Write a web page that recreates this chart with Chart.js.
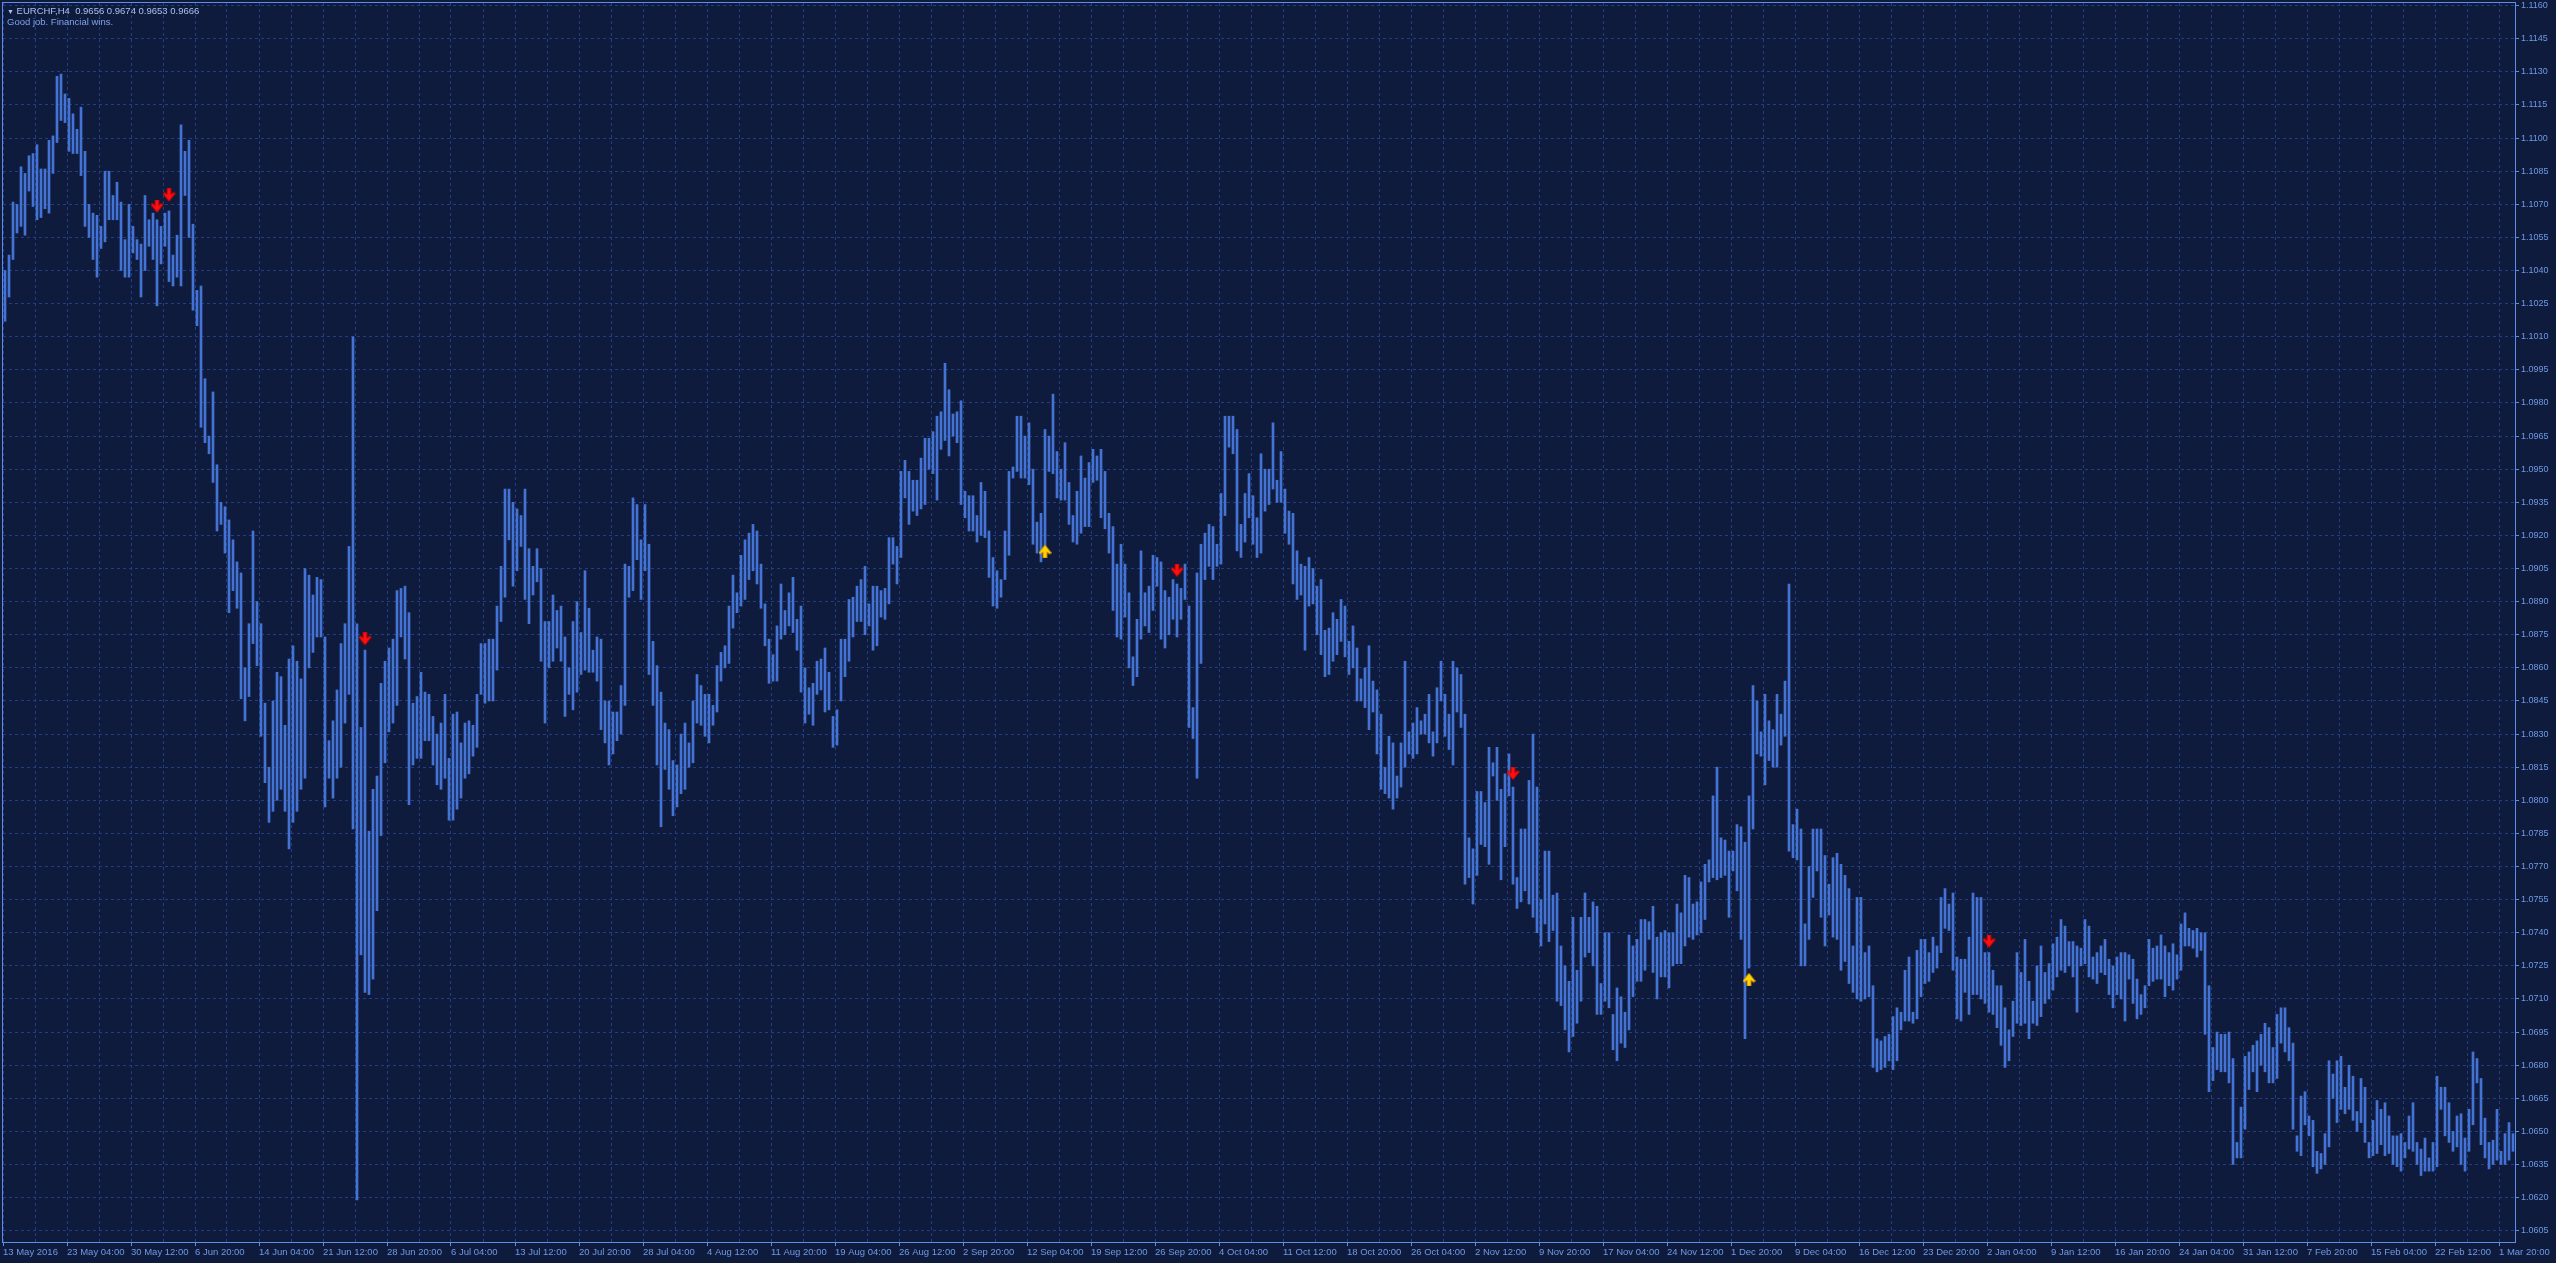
<!DOCTYPE html>
<html>
<head>
<meta charset="utf-8">
<title>EURCHF,H4</title>
<script src="https://cdn.jsdelivr.net/npm/chart.js@4.4.1/dist/chart.umd.min.js"></script>
<style>
  html, body { margin: 0; padding: 0; background: #0f1b3d; overflow: hidden; }
  #wrap { position: relative; width: 2556px; height: 1263px; }
  #c { display: block; }
  .hdr { position: absolute; left: 7px; font-family: "Liberation Sans", Arial, sans-serif; font-size: 9.5px; line-height: 11px; white-space: pre; }
</style>
</head>
<body>
<div id="wrap">
  <canvas id="c" width="2556" height="1263"></canvas>
  <div class="hdr" style="top:5px;color:#a9c0ee"><span style="font-size:7px">▼</span> EURCHF,H4  0.9656 0.9674 0.9653 0.9666</div>
  <div class="hdr" style="top:16px;color:#7fa3ea">Good job. Financial wins.</div>
</div>
<script>
// ---- data (EURCHF H4, each point = two H4 bars, prices in pips: value / 10000) ----
const highPips = [
11040,11047,11071,11070,11087,11084,11092,11093,11097,11086,
11086,11099,11101,11128,11129,11120,11118,11111,11104,11114,
11094,11070,11066,11065,11060,11085,11085,11074,11080,11071,
11054,11070,11060,11054,11052,11074,11063,11066,11063,11060,
11066,11067,11047,11056,11106,11094,11099,11061,11031,11033,
10991,10965,10985,10952,10935,10933,10927,10918,10908,10903,
10860,10880,10922,10890,10880,10844,10815,10845,10858,10856,
10834,10864,10870,10863,10855,10905,10902,10893,10901,10900,
10874,10827,10836,10850,10871,10880,10915,11010,10880,10833,
10868,10786,10805,10811,10853,10863,10869,10873,10895,10896,
10897,10885,10844,10847,10858,10849,10848,10838,10830,10835,
10848,10819,10839,10840,10826,10835,10836,10834,10848,10871,
10871,10873,10873,10888,10906,10941,10941,10935,10932,10929,
10941,10914,10906,10914,10905,10881,10881,10893,10886,10888,
10874,10860,10881,10890,10876,10904,10887,10868,10874,10873,
10845,10845,10840,10840,10852,10907,10906,10937,10934,10918,
10934,10916,10872,10861,10849,10835,10832,10818,10816,10830,
10835,10826,10845,10857,10852,10848,10848,10843,10861,10867,
10870,10888,10902,10894,10911,10918,10921,10925,10922,10907,
10889,10873,10866,10879,10898,10886,10894,10901,10882,10888,
10860,10851,10853,10863,10864,10869,10858,10838,10841,10873,
10873,10891,10892,10897,10900,10906,10889,10897,10897,10895,
10896,10919,10919,10915,10949,10954,10949,10945,10945,10955,
10964,10964,10967,10974,10976,10998,10986,10975,10976,10981,
10940,10938,10938,10929,10944,10940,10922,10910,10904,10900,
10922,10949,10951,10974,10974,10965,10971,10950,10926,10930,
10968,10965,10984,10958,10950,10962,10944,10929,10940,10956,
10946,10953,10959,10956,10959,10949,10930,10924,10907,10916,
10907,10894,10865,10882,10913,10894,10897,10911,10910,10908,
10895,10892,10900,10898,10896,10907,10888,10842,10903,10916,
10921,10925,10924,10916,10939,10974,10974,10974,10968,10925,
10939,10948,10938,10928,10957,10950,10950,10971,10945,10958,
10941,10931,10930,10913,10907,10906,10910,10905,10897,10900,
10877,10878,10885,10882,10891,10888,10872,10879,10869,10855,
10860,10870,10854,10850,10839,10815,10829,10826,10811,10826,
10863,10831,10835,10842,10836,10839,10848,10831,10851,10863,
10848,10839,10863,10860,10857,10839,10783,10778,10804,10804,
10799,10824,10817,10824,10805,10812,10821,10806,10765,10787,
10787,10809,10830,10806,10755,10777,10777,10757,10758,10734,
10725,10718,10747,10723,10747,10758,10747,10754,10752,10717,
10740,10740,10703,10715,10711,10704,10739,10734,10737,10746,
10746,10745,10752,10738,10740,10741,10740,10740,10753,10749,
10766,10765,10753,10754,10763,10771,10773,10802,10815,10783,
10782,10777,10777,10789,10788,10781,10802,10852,10845,10831,
10848,10836,10832,10848,10839,10854,10898,10789,10796,10787,
10744,10770,10787,10787,10787,10775,10762,10774,10776,10771,
10766,10760,10734,10756,10756,10731,10734,10716,10692,10691,
10693,10694,10702,10706,10704,10723,10729,10704,10732,10737,
10737,10731,10738,10734,10756,10760,10753,10758,10729,10728,
10728,10738,10758,10756,10756,10731,10731,10723,10716,10716,
10706,10696,10709,10731,10722,10737,10718,10709,10725,10734,
10722,10726,10735,10738,10746,10743,10736,10736,10734,10733,
10746,10743,10729,10731,10734,10737,10728,10725,10729,10731,
10731,10730,10728,10719,10712,10716,10737,10733,10734,10739,
10734,10731,10735,10730,10744,10749,10742,10741,10742,10740,
10740,10716,10688,10695,10694,10694,10695,10683,10645,10661,
10684,10686,10689,10691,10694,10699,10697,10688,10703,10706,
10706,10697,10690,10648,10666,10668,10657,10655,10641,10640,
10649,10682,10676,10682,10684,10670,10680,10675,10659,10674,
10670,10645,10655,10664,10660,10663,10657,10648,10648,10649,
10645,10657,10663,10645,10642,10647,10638,10645,10675,10670,
10670,10663,10650,10657,10658,10647,10660,10686,10683,10674,
10656,10645,10646,10660,10641,10649,10654,10649
];
const lowPips = [
11017,11028,11045,11057,11060,11056,11076,11069,11063,11064,
11068,11066,11084,11098,11108,11107,11094,11093,11093,11083,
11060,11055,11045,11037,11050,11053,11063,11063,11063,11040,
11037,11037,11048,11045,11028,11040,11051,11045,11024,11043,
11051,11035,11033,11037,11033,11074,11055,11022,11015,10969,
10962,10957,10944,10922,10925,10912,10885,10895,10887,10846,
10836,10847,10871,10861,10829,10808,10790,10795,10800,10805,
10795,10778,10790,10795,10805,10810,10860,10867,10874,10874,
10797,10810,10801,10810,10815,10835,10848,10787,10619,10730,
10713,10712,10719,10750,10784,10817,10831,10835,10843,10874,
10864,10798,10816,10819,10819,10827,10827,10816,10807,10805,
10810,10791,10791,10796,10801,10810,10812,10820,10824,10848,
10844,10845,10845,10859,10881,10892,10918,10897,10904,10915,
10891,10880,10893,10899,10863,10835,10860,10863,10869,10863,
10838,10848,10841,10849,10857,10859,10858,10858,10854,10832,
10826,10816,10821,10827,10830,10843,10892,10895,10909,10891,
10904,10857,10843,10816,10788,10814,10805,10793,10797,10803,
10805,10815,10817,10835,10834,10829,10826,10834,10840,10854,
10860,10862,10878,10885,10888,10891,10900,10904,10898,10887,
10870,10853,10854,10854,10873,10875,10879,10876,10868,10849,
10835,10839,10834,10848,10850,10840,10841,10824,10825,10845,
10856,10863,10874,10881,10881,10875,10879,10868,10870,10883,
10882,10889,10907,10898,10910,10937,10925,10931,10929,10932,
10934,10950,10948,10936,10959,10963,10956,10965,10962,10934,
10928,10922,10922,10917,10920,10919,10901,10888,10887,10892,
10900,10911,10946,10949,10946,10946,10943,10916,10912,10908,
10912,10949,10948,10937,10936,10936,10925,10917,10916,10921,
10924,10924,10944,10945,10928,10923,10912,10886,10874,10873,
10883,10860,10852,10856,10873,10879,10876,10886,10897,10873,
10869,10875,10882,10874,10882,10891,10833,10828,10810,10862,
10900,10906,10900,10906,10907,10929,10960,10957,10913,10910,
10917,10928,10916,10910,10912,10931,10934,10941,10935,10935,
10921,10916,10898,10891,10893,10868,10888,10889,10875,10866,
10856,10857,10863,10866,10872,10865,10857,10860,10845,10845,
10842,10832,10840,10821,10805,10803,10801,10796,10801,10806,
10815,10821,10819,10821,10830,10830,10826,10820,10826,10845,
10829,10823,10816,10840,10833,10762,10765,10753,10766,10780,
10779,10771,10811,10800,10764,10779,10802,10762,10751,10754,
10759,10753,10747,10740,10734,10744,10736,10741,10709,10707,
10696,10686,10693,10699,10709,10729,10731,10725,10703,10703,
10709,10706,10687,10682,10690,10688,10696,10711,10718,10718,
10723,10737,10722,10710,10720,10720,10715,10725,10726,10726,
10734,10738,10737,10739,10740,10746,10763,10765,10764,10765,
10766,10747,10768,10759,10737,10692,10724,10787,10821,10820,
10807,10818,10815,10815,10825,10829,10777,10774,10773,10725,
10725,10737,10756,10768,10747,10734,10748,10738,10737,10723,
10727,10717,10713,10710,10709,10710,10711,10679,10677,10678,
10679,10682,10678,10682,10696,10700,10700,10699,10701,10711,
10717,10718,10722,10724,10731,10742,10741,10723,10701,10700,
10713,10703,10712,10712,10710,10708,10704,10703,10697,10689,
10679,10682,10693,10699,10698,10699,10692,10699,10698,10702,
10708,10710,10714,10720,10723,10722,10725,10720,10704,10725,
10726,10720,10719,10717,10722,10721,10712,10706,10712,10710,
10700,10719,10708,10701,10703,10706,10716,10718,10719,10719,
10711,10716,10714,10719,10723,10734,10734,10733,10729,10732,
10694,10668,10673,10678,10677,10677,10672,10635,10638,10638,
10651,10669,10677,10668,10680,10677,10672,10672,10674,10690,
10686,10682,10651,10641,10639,10653,10648,10634,10631,10633,
10635,10643,10665,10654,10660,10658,10660,10655,10650,10654,
10645,10638,10639,10640,10644,10639,10640,10635,10634,10632,
10638,10642,10641,10635,10630,10632,10632,10632,10634,10660,
10648,10645,10641,10643,10635,10632,10641,10653,10672,10644,
10638,10633,10635,10637,10635,10635,10637,10641
];
// time-axis labels, one every 16 points (32 H4 bars)
const timeLabels = ['13 May 2016','23 May 04:00','30 May 12:00','6 Jun 20:00','14 Jun 04:00','21 Jun 12:00','28 Jun 20:00','6 Jul 04:00','13 Jul 12:00','20 Jul 20:00','28 Jul 04:00','4 Aug 12:00','11 Aug 20:00','19 Aug 04:00','26 Aug 12:00','2 Sep 20:00','12 Sep 04:00','19 Sep 12:00','26 Sep 20:00','4 Oct 04:00','11 Oct 12:00','18 Oct 20:00','26 Oct 04:00','2 Nov 12:00','9 Nov 20:00','17 Nov 04:00','24 Nov 12:00','1 Dec 20:00','9 Dec 04:00','16 Dec 12:00','23 Dec 20:00','2 Jan 04:00','9 Jan 12:00','16 Jan 20:00','24 Jan 04:00','31 Jan 12:00','7 Feb 20:00','15 Feb 04:00','22 Feb 12:00','1 Mar 20:00'];
const priceTicks = [1.0605,1.0620,1.0635,1.0650,1.0665,1.0680,1.0695,1.0710,1.0725,1.0740,1.0755,1.0770,1.0785,1.0800,1.0815,1.0830,1.0845,1.0860,1.0875,1.0890,1.0905,1.0920,1.0935,1.0950,1.0965,1.0980,1.0995,1.1010,1.1025,1.1040,1.1055,1.1070,1.1085,1.1100,1.1115,1.1130,1.1145,1.1160];
// signal arrows: point index and price
const sellIdx = [38, 41, 90, 293, 377, 496];
const sellPrice = [1.1069, 1.1074, 1.0873, 1.0904, 1.0812, 1.0736];
const buyIdx = [260, 436];
const buyPrice = [1.0913, 1.0719];

// ---- styling ----
const GRID = '#223e80';
const FRAME = '#5d8de4';
const BAR = '#4373d4';
const TEXT = '#6f9ae6';
const LABEL_EVERY = 16;
const GRID_EVERY = 8;

const N = highPips.length;
const categories = highPips.map((_, i) => (i % LABEL_EVERY === 0 && timeLabels[i / LABEL_EVERY]) ? timeLabels[i / LABEL_EVERY] : '');
const barData = highPips.map((h, i) => [lowPips[i] / 10000, h / 10000]);
const sellData = new Array(N).fill(null);
sellIdx.forEach((k, j) => { sellData[k] = sellPrice[j]; });
const buyData = new Array(N).fill(null);
buyIdx.forEach((k, j) => { buyData[k] = buyPrice[j]; });

function makeArrow(down, fill, stroke) {
  const c = document.createElement('canvas');
  c.width = 13; c.height = 14;
  const g = c.getContext('2d');
  let pts = [[4.5,0],[8.5,0],[8.5,6],[11.2,3.6],[12.6,5.2],[6.5,13],[0.4,5.2],[1.8,3.6],[4.5,6]];
  if (!down) pts = pts.map(p => [p[0], 14 - p[1]]);
  g.beginPath();
  pts.forEach((p, i) => i ? g.lineTo(p[0], p[1]) : g.moveTo(p[0], p[1]));
  g.closePath();
  g.fillStyle = fill; g.fill();
  g.lineWidth = 0.8; g.strokeStyle = stroke; g.stroke();
  return c;
}
const sellImg = makeArrow(true, '#ff1010', '#b00000');
const buyImg = makeArrow(false, '#ffd800', '#e07800');

const framePlugin = {
  id: 'frame',
  afterDatasetsDraw(chart) {
    const { ctx, chartArea: a } = chart;
    ctx.save();
    ctx.strokeStyle = FRAME;
    ctx.lineWidth = 1;
    ctx.strokeRect(a.left - 0.5, a.top - 0.5, a.right - a.left + 1, a.bottom - a.top + 1);
    ctx.restore();
  }
};

new Chart(document.getElementById('c'), {
  type: 'bar',
  data: {
    labels: categories,
    datasets: [
      { type: 'line', label: 'sell', data: sellData, showLine: false, pointStyle: sellImg, pointRadius: 7, order: 0, clip: false },
      { type: 'line', label: 'buy', data: buyData, showLine: false, pointStyle: buyImg, pointRadius: 7, order: 0, clip: false },
      { type: 'bar', label: 'EURCHF,H4', data: barData, backgroundColor: BAR, borderWidth: 0, barThickness: 2, order: 1 }
    ]
  },
  options: {
    responsive: false,
    animation: false,
    events: [],
    layout: { autoPadding: false, padding: { top: 3, left: 3, right: 0, bottom: 0 } },
    plugins: { legend: { display: false }, tooltip: { enabled: false } },
    scales: {
      x: {
        type: 'category',
        offset: true,
        grid: {
          offset: true,
          color: c => (c.index !== undefined && c.index % GRID_EVERY === 0) ? GRID : 'transparent',
          lineWidth: 1,
          drawTicks: true,
          tickLength: 4,
          tickWidth: 1,
          tickColor: c => (c.index !== undefined && c.index % LABEL_EVERY === 0) ? FRAME : 'transparent'
        },
        border: { display: false, dash: [3, 3] },
        ticks: {
          autoSkip: false, maxRotation: 0, minRotation: 0,
          align: 'start', labelOffset: -2, padding: 1,
          color: TEXT, font: { family: 'Liberation Sans', size: 9.5 }
        },
        afterFit(s) { s.height = 21; s.paddingLeft = 0; s.paddingRight = 0; }
      },
      y: {
        type: 'linear',
        position: 'right',
        min: 1.05999,
        max: 1.11612,
        afterBuildTicks(s) { s.ticks = priceTicks.map(v => ({ value: v })); },
        grid: { color: GRID, lineWidth: 1, drawTicks: true, tickLength: 4, tickWidth: 1, tickColor: FRAME },
        border: { display: false, dash: [3, 3] },
        ticks: { callback: v => Number(v).toFixed(4), padding: 2, color: TEXT, font: { family: 'Liberation Sans', size: 9 } },
        afterFit(s) { s.width = 41; s.paddingTop = 0; s.paddingBottom = 0; }
      }
    }
  },
  plugins: [framePlugin]
});
</script>
</body>
</html>
